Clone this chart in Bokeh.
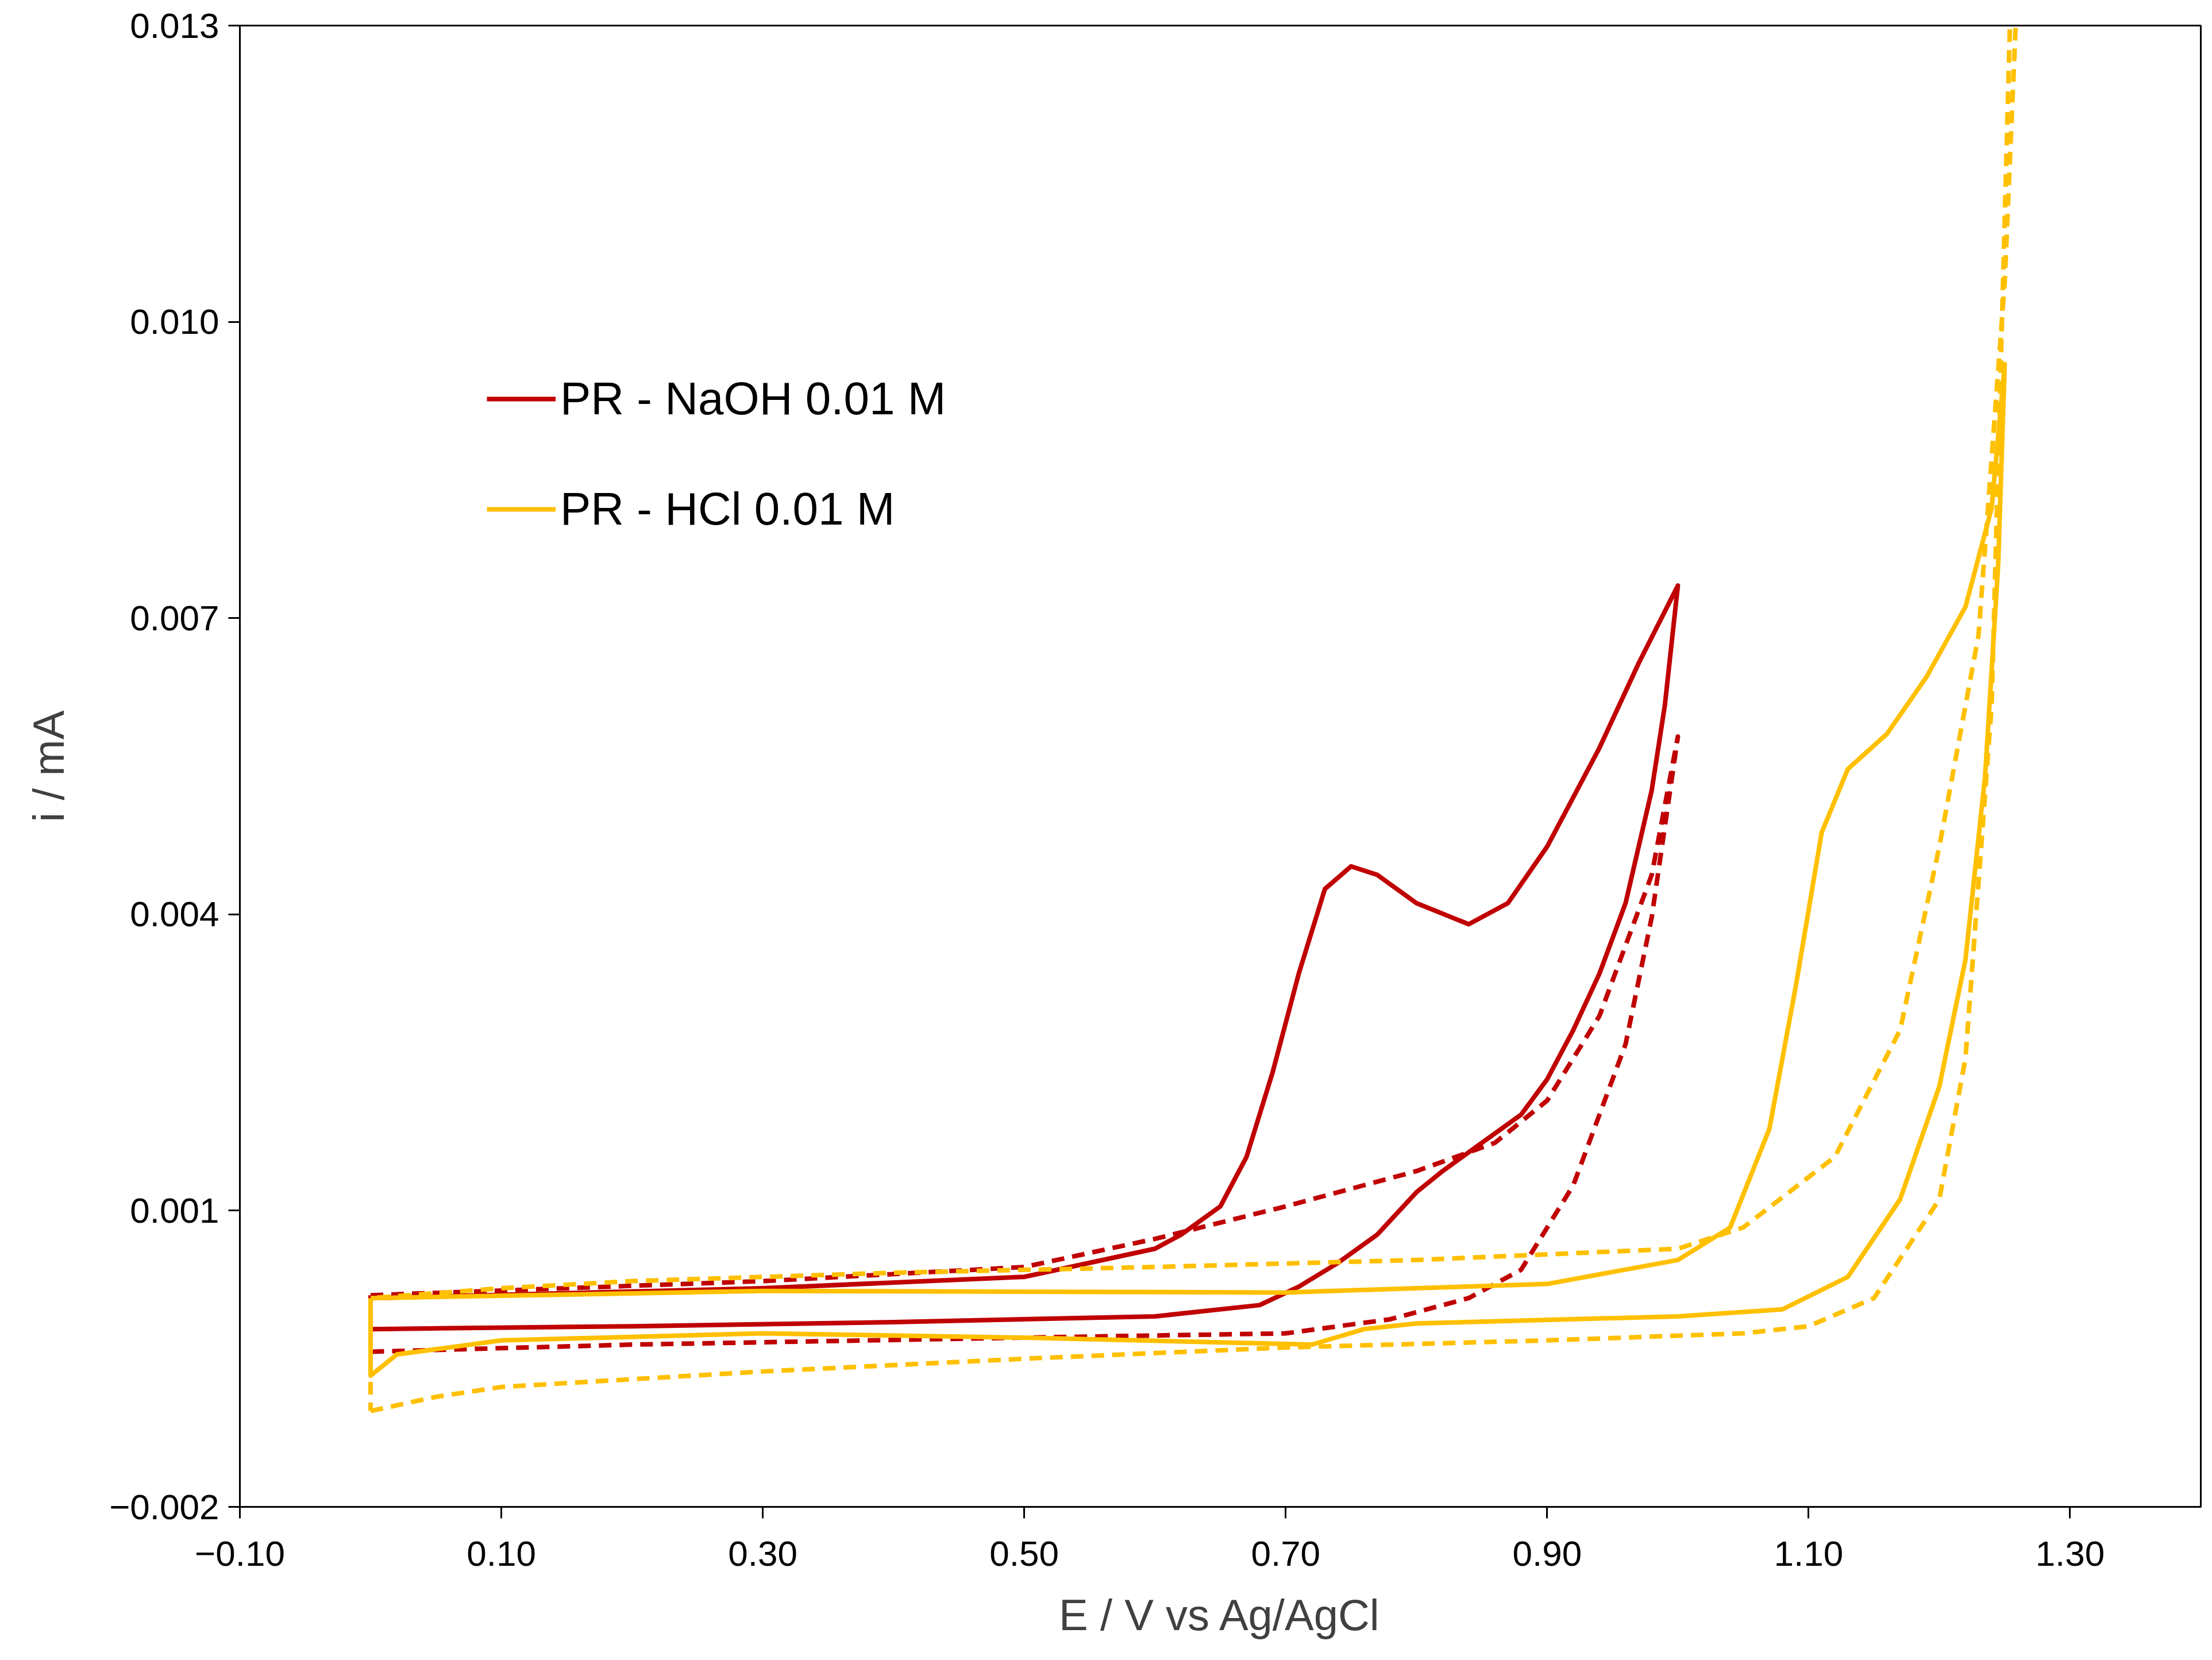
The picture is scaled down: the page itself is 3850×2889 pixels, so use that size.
from bokeh.plotting import figure
from bokeh.models import FixedTicker, CustomJSTickFormatter, Range1d, Legend, LegendItem
from bokeh.embed import file_html
from bokeh.resources import INLINE

naoh_x = [0, 0.3, 0.5, 0.6, 0.62, 0.65, 0.67, 0.69, 0.71, 0.73, 0.75, 0.77, 0.80, 0.84, 0.87, 0.90,
          0.94, 0.97, 1.0,
          0.99, 0.98, 0.96, 0.94, 0.92, 0.90, 0.88, 0.85, 0.82, 0.80, 0.77, 0.74, 0.71, 0.68, 0.6,
          0.4, 0.2, 0, 0]
naoh_y = [0.000114, 0.000214, 0.000329, 0.000614, 0.000757, 0.001043, 0.001543, 0.0024, 0.0034,
          0.004257, 0.004486, 0.0044, 0.004114, 0.0039, 0.004114, 0.004686, 0.005686, 0.006543,
          0.007329,
          0.006114, 0.005257, 0.004114, 0.0034, 0.002829, 0.002329, 0.001971, 0.001686, 0.0014,
          0.001186, 0.000757, 0.000471, 0.000229, 0.000043, -0.000071, -0.000129, -0.000171,
          -0.0002, 0.000114]
naoh_d_x = [0, 0.3, 0.5, 0.6, 0.7, 0.8, 0.86, 0.9, 0.94, 0.98, 1.0,
            0.98, 0.96, 0.92, 0.88, 0.84, 0.78, 0.7, 0.5, 0.2, 0, 0]
naoh_d_y = [0.000143, 0.000286, 0.000429, 0.000714, 0.001043, 0.0014, 0.001686, 0.002114, 0.002971,
            0.0044, 0.0058,
            0.003971, 0.002686, 0.001257, 0.0004, 0.000114, -0.0001, -0.000243, -0.000286,
            -0.000357, -0.000429, 0.000143]
hcl_x = [0, 0.3, 0.7, 0.9, 1.0, 1.04, 1.07, 1.09, 1.11, 1.13, 1.16, 1.19, 1.22, 1.24, 1.25,
         1.245, 1.235, 1.22, 1.2, 1.17, 1.13, 1.08, 1.0, 0.8, 0.76, 0.72, 0.5, 0.3, 0.1, 0.02, 0, 0]
hcl_y = [0.000114, 0.000186, 0.000171, 0.000257, 0.0005, 0.000829, 0.001829, 0.003257, 0.004829,
         0.005471, 0.005829, 0.0064, 0.007114, 0.008114, 0.009571,
         0.007543, 0.0054, 0.003543, 0.002257, 0.001114, 0.000329, 0.0, -0.000071, -0.000143,
         -0.0002, -0.000357, -0.000286, -0.000243, -0.000314, -0.000457, -0.000671, 0.000114]
hcl_d_x = [0, 0.05, 0.1, 0.3, 0.5, 0.7, 0.9, 1.05, 1.1, 1.15, 1.2, 1.22, 1.24, 1.255,
           1.26, 1.25, 1.23, 1.2, 1.17, 1.12, 1.05, 1.0, 0.8, 0.6, 0.4, 0.2, 0.1, 0, 0]
hcl_d_y = [-0.001029, -0.000886, -0.000786, -0.000629, -0.0005, -0.000386, -0.000314, -0.000243,
           -0.000171, 0.000114, 0.001114, 0.002543, 0.006114, 0.0135,
           0.0135, 0.0104, 0.006829, 0.004686, 0.002829, 0.001543, 0.000829, 0.000614, 0.0005,
           0.000429, 0.000371, 0.000286, 0.000214, 0.000114, -0.001029]
x_ticks = [-0.10, 0.10, 0.30, 0.50, 0.70, 0.90, 1.10, 1.30]
y_ticks = [-0.002, 0.001, 0.004, 0.007, 0.010, 0.013]
labels = ["PR - NaOH 0.01 M", "PR - HCl 0.01 M"]

RED = "#C00000"
YEL = "#FFC000"
FONT = "Liberation Sans"

p = figure(width=3834, height=2870, output_backend="svg", toolbar_location=None,
           x_range=Range1d(-0.10, 1.40), y_range=Range1d(-0.002, 0.013),
           min_border_left=417, min_border_right=4, min_border_top=44, min_border_bottom=248)
p.xgrid.visible = False
p.ygrid.visible = False
p.outline_line_color = "black"
p.outline_line_width = 3
p.background_fill_color = "white"

lw = 8
r1 = p.line(naoh_x, naoh_y, color=RED, line_width=lw, line_join="round")
p.line(naoh_d_x, naoh_d_y, color=RED, line_width=lw, line_dash="22 14", line_join="round")
r2 = p.line(hcl_x, hcl_y, color=YEL, line_width=lw, line_join="round")
p.line(hcl_d_x, hcl_d_y, color=YEL, line_width=lw, line_dash="22 14", line_join="round")

for ax in (p.xaxis[0], p.yaxis[0]):
    ax.axis_line_width = 3
    ax.major_tick_line_width = 3
    ax.major_tick_out = 20
    ax.major_tick_in = 0
    ax.minor_tick_line_color = None
    ax.major_label_text_font = FONT
    ax.major_label_text_font_size = "62px"
    ax.major_label_text_color = "black"
    ax.axis_label_text_font = FONT
    ax.axis_label_text_font_size = "76px"
    ax.axis_label_text_font_style = "normal"
    ax.axis_label_text_color = "#404040"
p.xaxis.ticker = FixedTicker(ticks=x_ticks)
p.yaxis.ticker = FixedTicker(ticks=y_ticks)
p.xaxis.formatter = CustomJSTickFormatter(code="return tick.toFixed(2).replace('-', '\u2212');")
p.yaxis.formatter = CustomJSTickFormatter(code="return tick.toFixed(3).replace('-', '\u2212');")
p.xaxis.axis_label = "E / V vs Ag/AgCl"
p.yaxis.axis_label = "i / mA"
p.xaxis.major_label_standoff = 40
p.yaxis.major_label_standoff = 16
p.xaxis.axis_label_standoff = 40
p.yaxis.axis_label_standoff = 60

leg = Legend(items=[LegendItem(label=labels[0], renderers=[r1]),
                    LegendItem(label=labels[1], renderers=[r2])],
             location=(430, 1690), border_line_color=None, background_fill_alpha=0,
             label_text_font=FONT, label_text_font_size="80px", label_text_color="black",
             glyph_width=120, spacing=100, label_standoff=8)
p.add_layout(leg)

open("out.html", "w").write(file_html(p, INLINE))
